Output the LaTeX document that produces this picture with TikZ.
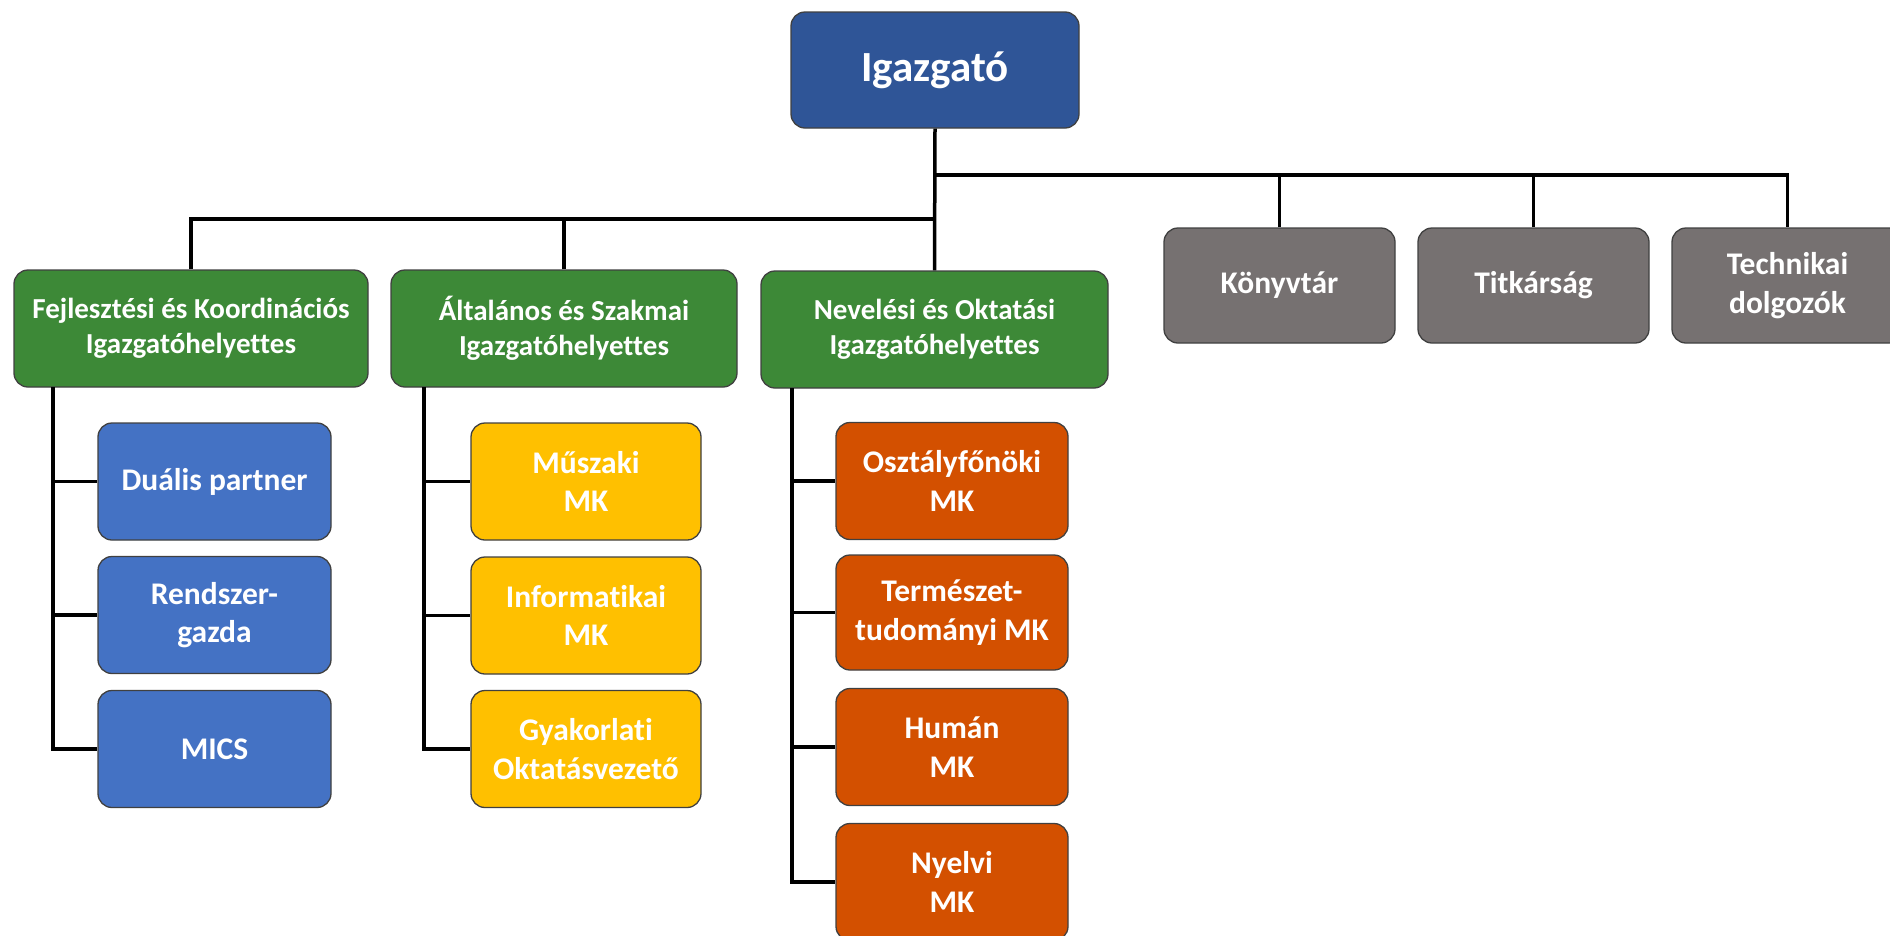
\documentclass[tikz,border=0pt]{standalone}
\usepackage{fontspec}
\setmainfont{Carlito}[Ligatures=NoCommon]
\definecolor{dirblue}{RGB}{47,85,151}
\definecolor{deputygreen}{RGB}{61,137,55}
\definecolor{staffgray}{RGB}{118,113,113}
\definecolor{subblue}{RGB}{68,114,196}
\definecolor{subyellow}{RGB}{255,192,0}
\definecolor{suborange}{RGB}{211,80,0}
\tikzset{
  box/.style={rectangle, rounded corners=14pt, draw=black!75, line width=1.3pt,
    text=white, align=center, inner sep=0pt, font=\bfseries},
  topbox/.style={box, fill=dirblue, minimum width=288pt, minimum height=116pt,
    font=\fontsize{43}{52}\selectfont\bfseries},
  greenbox/.style={box, fill=deputygreen, minimum height=117pt,
    font=\fontsize{29}{35}\selectfont\bfseries},
  graybox/.style={box, fill=staffgray, minimum width=231pt, minimum height=115pt,
    font=\fontsize{31.5}{38.5}\selectfont\bfseries},
  subbox/.style={box, minimum height=117pt,
    font=\fontsize{31.5}{38.5}\selectfont\bfseries},
  bluebox/.style={subbox, fill=subblue, minimum width=233pt},
  yellowbox/.style={subbox, fill=subyellow, minimum width=230pt},
  orangebox/.style={subbox, fill=suborange, minimum width=232pt},
  link/.style={line width=3.5pt, draw=black}
}
\begin{document}
\begin{tikzpicture}[x=1pt,y=-1pt]
\useasboundingbox (0,0) rectangle (1890,935);
% top
\node[topbox] (dir) at (935,70) {Igazgató};
% deputies
\node[greenbox, minimum width=354pt] (f1) at (191,328.5) {Fejlesztési és Koordinációs\\Igazgatóhelyettes};
\node[greenbox, minimum width=346pt] (f2) at (564,328.5) {Általános és Szakmai\\Igazgatóhelyettes};
\node[greenbox, minimum width=347pt] (f3) at (934.5,329.5) {Nevelési és Oktatási\\Igazgatóhelyettes};
% staff
\node[graybox] (k1) at (1279.5,285.5) {Könyvtár};
\node[graybox] (k2) at (1533.5,285.5) {Titkárság};
\node[graybox] (k3) at (1787.5,285.5) {Technikai\\dolgozók};
% blue column
\node[bluebox] (b1) at (214.5,481.5) {Duális partner};
\node[bluebox] (b2) at (214.5,615) {Rendszer-\\gazda};
\node[bluebox] (b3) at (214.5,749) {MICS};
% yellow column
\node[yellowbox] (y1) at (586,481.5) {Műszaki\\MK};
\node[yellowbox] (y2) at (586,615.5) {Informatikai\\MK};
\node[yellowbox] (y3) at (586,749) {Gyakorlati\\Oktatásvezető};
% orange column
\node[orangebox] (o1) at (952,481) {Osztályfőnöki\\MK};
\node[orangebox, minimum height=115pt] (o2) at (952,612.5) {Természet-\\tudományi MK};
\node[orangebox] (o3) at (952,747) {Humán\\MK};
\node[orangebox] (o4) at (952,882) {Nyelvi\\MK};
% bus coordinates
\coordinate (busL) at (935,219);
\coordinate (busR) at (935,175);
\coordinate (s1) at (53,387);
\coordinate (s2) at (424,387);
\coordinate (s3) at (792,388);
% connectors from the director
\draw[link] (dir.south) -- (f3.north);
\draw[link] (f1.north) |- (busL);
\draw[link] (f2.north) |- (busL);
\draw[link] (busR) -| (k3.north);
\draw[link] (k1.north) -- (k1.north |- busR);
\draw[link] (k2.north) -- (k2.north |- busR);
% blue column
\draw[link] (s1) |- (b3.west);
\draw[link] (s1 |- b1.west) -- (b1.west);
\draw[link] (s1 |- b2.west) -- (b2.west);
% yellow column
\draw[link] (s2) |- (y3.west);
\draw[link] (s2 |- y1.west) -- (y1.west);
\draw[link] (s2 |- y2.west) -- (y2.west);
% orange column
\draw[link] (s3) |- (o4.west);
\draw[link] (s3 |- o1.west) -- (o1.west);
\draw[link] (s3 |- o2.west) -- (o2.west);
\draw[link] (s3 |- o3.west) -- (o3.west);
\end{tikzpicture}
\end{document}
